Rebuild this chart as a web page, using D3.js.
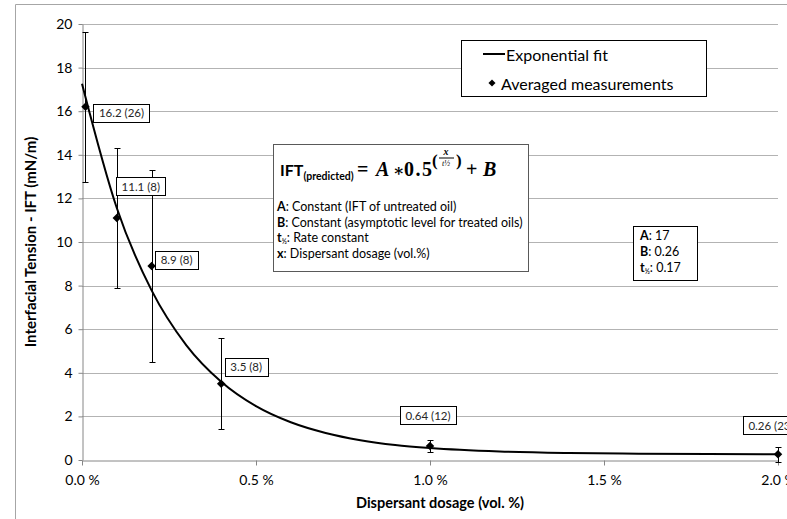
<!DOCTYPE html>
<html>
<head>
<meta charset="utf-8">
<script src="https://cdn.jsdelivr.net/npm/d3@7"></script>
<style>
  body { margin: 0; background: #fff; }
  svg { display: block; font-family: Lato, "Open Sans", sans-serif; }
</style>
</head>
<body>
<div id="chart"></div>
<script>
// measured points (dosage in vol.%, IFT in mN/m)
const dosage = [0.01, 0.1, 0.2, 0.4, 1.0, 2.0];
const ift = [16.2, 11.1, 8.9, 3.5, 0.64, 0.26];
const spread = [3.45, 3.2, 4.4, 2.1, 0.27, 0.35];
const counts = [26, 8, 8, 8, 12, 23];
const labels = ['16.2 (26)', '11.1 (8)', '8.9 (8)', '3.5 (8)', '0.64 (12)', '0.26 (23)'];

// exponential fit curve
const fitX = [0, 0.1, 0.2, 0.3, 0.4, 0.5, 0.6, 0.7, 0.8, 0.9, 1.0, 1.2, 1.4, 1.6, 1.8, 2.0];
const fitY = [17.26, 11.56, 7.78, 5.26, 3.59, 2.47, 1.73, 1.24, 0.91, 0.69, 0.55, 0.39, 0.32, 0.29, 0.27, 0.26];

const xTicks = [0, 0.5, 1.0, 1.5, 2.0];
const yTicks = [0, 2, 4, 6, 8, 10, 12, 14, 16, 18, 20];

const params = [['A', '17'], ['B', '0.26'], ['t', '0.17']];
const notes = [
  ['A', ': Constant (IFT of untreated oil)'],
  ['B', ': Constant (asymptotic level for treated oils)'],
  ['t', ': Rate constant'],
  ['x', ': Dispersant dosage (vol.%)']
];

// label box offsets from their point (layout only)
const labelOffsets = [[36, 6], [24, -32], [25, -6], [25, -17], [-2, -31], [-7, -29]];

const W = 787, H = 519;
const svg = d3.select('#chart').append('svg').attr('width', W).attr('height', H);

// chart frame
svg.append('path').attr('d', 'M15.5,519V4.5H787').attr('fill', 'none').attr('stroke', '#a6a6a6');

const x = d3.scaleLinear().domain([0, 2]).range([82, 778]);
const y = d3.scaleLinear().domain([0, 20]).range([460, 24]);

// gridlines
svg.append('g').selectAll('line').data(yTicks.filter(d => d > 0)).join('line')
  .attr('x1', x(0)).attr('x2', x(2))
  .attr('y1', d => Math.round(y(d)) + 0.5).attr('y2', d => Math.round(y(d)) + 0.5)
  .attr('stroke', '#b3b3b3');

const axY = svg.append('g').attr('transform', 'translate(82.5,0)')
  .call(d3.axisLeft(y).tickValues(yTicks).tickSize(4).tickSizeOuter(0).tickPadding(6));
const axX = svg.append('g').attr('transform', 'translate(0,460.5)')
  .call(d3.axisBottom(x).tickValues(xTicks).tickSize(5).tickSizeOuter(0).tickPadding(10)
    .tickFormat(d => d3.format('.1f')(d) + ' %'));
[axY, axX].forEach(a => {
  a.select('.domain').attr('stroke', '#868686');
  a.selectAll('.tick line').attr('stroke', '#868686');
  a.selectAll('.tick text').attr('fill', '#000').style('font-size', '14px').style('font-family', 'Lato');
});

// axis titles
svg.append('text').attr('x', 440).attr('y', 508).attr('text-anchor', 'middle')
  .style('font-size', '14.5px').style('font-weight', 'bold').text('Dispersant dosage (vol. %)');
svg.append('text').attr('transform', 'translate(36,242) rotate(-90)').attr('text-anchor', 'middle')
  .style('font-size', '15px').style('font-weight', 'bold').text('Interfacial Tension - IFT (mN/m)');

// fit line
svg.append('path')
  .datum(fitX.map((d, i) => [d, fitY[i]]))
  .attr('fill', 'none').attr('stroke', '#000').attr('stroke-width', 2)
  .attr('d', d3.line().x(d => x(d[0])).y(d => y(d[1])).curve(d3.curveMonotoneX));

// error bars
const pts = dosage.map((d, i) => ({x: d, y: ift[i], e: spread[i], n: counts[i], lab: labels[i], off: labelOffsets[i]}));
const eb = svg.append('g').attr('stroke', '#000').attr('stroke-width', 1);
pts.forEach(p => {
  const px = Math.round(x(p.x)) + 0.5;
  const top = Math.round(y(p.y + p.e)) + 0.5, bot = Math.round(y(p.y - p.e)) + 0.5;
  eb.append('line').attr('x1', px).attr('x2', px).attr('y1', top).attr('y2', bot);
  eb.append('line').attr('x1', px - 3).attr('x2', px + 3).attr('y1', top).attr('y2', top);
  eb.append('line').attr('x1', px - 3).attr('x2', px + 3).attr('y1', bot).attr('y2', bot);
});

// markers
svg.append('g').selectAll('path').data(pts).join('path')
  .attr('transform', d => `translate(${x(d.x)},${y(d.y)}) rotate(45)`)
  .attr('d', 'M-3,-3H3V3H-3Z').attr('fill', '#000');

// data labels
pts.forEach(p => {
  const cx = x(p.x) + p.off[0], cy = y(p.y) + p.off[1];
  const g = svg.append('g');
  const t = g.append('text').attr('x', cx).attr('y', cy).attr('text-anchor', 'middle')
    .attr('dominant-baseline', 'central').style('font-size', '11.5px').attr('fill', '#262626').text(p.lab);
  const w = t.node().getComputedTextLength() + 11;
  g.insert('rect', 'text').attr('x', Math.round(cx - w / 2) + 0.5).attr('y', Math.round(cy - 9) + 0.5)
    .attr('width', Math.round(w)).attr('height', 18).attr('fill', '#fff').attr('stroke', '#000');
});

// legend
const lg = svg.append('g');
lg.append('rect').attr('x', 461.5).attr('y', 40.5).attr('width', 245).attr('height', 56)
  .attr('fill', '#fff').attr('stroke', '#000');
lg.append('line').attr('x1', 483).attr('x2', 505).attr('y1', 54).attr('y2', 54)
  .attr('stroke', '#000').attr('stroke-width', 2);
lg.append('text').attr('x', 506).attr('y', 54).attr('dominant-baseline', 'central')
  .style('font-size', '16px').text('Exponential fit');
lg.append('path').attr('transform', 'translate(492,83) rotate(45)').attr('d', 'M-2.5,-2.5H2.5V2.5H-2.5Z');
lg.append('text').attr('x', 501).attr('y', 83).attr('dominant-baseline', 'central')
  .style('font-size', '16px').text('Averaged measurements');

// formula box
const fb = svg.append('g');
fb.append('rect').attr('x', 273.5).attr('y', 144.5).attr('width', 255).attr('height', 127)
  .attr('fill', '#fff').attr('stroke', '#595959');
const ft = fb.append('text').attr('x', 280).attr('y', 176);
ft.append('tspan').style('font-size', '16px').style('font-weight', 'bold').text('IFT');
ft.append('tspan').attr('dy', 4).style('font-size', '10.5px').style('font-weight', 'bold').text('(predicted)');

const mathFont = '"Liberation Serif", "DejaVu Serif", serif';
const math = fb.append('g').style('font-family', mathFont).style('font-weight', 'bold');
const piece = (px, py, size, txt, italic) => math.append('text').attr('x', px).attr('y', py)
  .style('font-size', size + 'px').style('font-style', italic ? 'italic' : 'normal').text(txt);
piece(357, 176, 20, '=', false);
piece(376, 176, 20, 'A', true);
piece(393, 176, 17, '∗', false);
piece(404, 176, 20, '0.5', false).style('letter-spacing', '1.5px');
piece(432, 166, 17, '(', false);
piece(456, 166, 17, ')', false);
math.append('text').attr('x', 446).attr('y', 155).attr('text-anchor', 'middle')
  .style('font-size', '10px').style('font-style', 'italic').text('x');
math.append('line').attr('x1', 439).attr('x2', 454).attr('y1', 158).attr('y2', 158).attr('stroke', '#000');
math.append('text').attr('x', 446).attr('y', 166).attr('text-anchor', 'middle')
  .style('font-size', '8px').style('font-style', 'italic').style('font-weight', 'normal').text('t½');
piece(466, 176, 20, '+', false);
piece(483, 176, 20, 'B', true);

notes.forEach((n, i) => {
  const t = fb.append('text').attr('x', 277).attr('y', 211 + i * 15.7).style('font-size', '12.5px');
  t.append('tspan').style('font-weight', 'bold').text(n[0]);
  if (n[0] === 't') t.append('tspan').attr('dy', 2).style('font-size', '7px').style('font-weight', 'bold').text('½');
  t.append('tspan').attr('dy', n[0] === 't' ? -2 : 0).text(n[1]);
});

// parameter box
const pb = svg.append('g');
pb.append('rect').attr('x', 633.5).attr('y', 226.5).attr('width', 64).attr('height', 54)
  .attr('fill', '#fff').attr('stroke', '#000');
params.forEach((p, i) => {
  const t = pb.append('text').attr('x', 640).attr('y', 240 + i * 16).style('font-size', '12.5px');
  t.append('tspan').style('font-weight', 'bold').text(p[0]);
  if (p[0] === 't') t.append('tspan').attr('dy', 2).style('font-size', '7px').style('font-weight', 'bold').text('½');
  t.append('tspan').attr('dy', p[0] === 't' ? -2 : 0).text(': ' + p[1]);
});
</script>
</body>
</html>
